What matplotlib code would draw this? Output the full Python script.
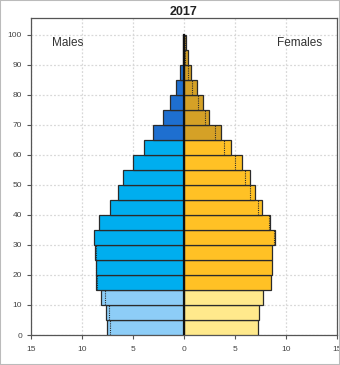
import matplotlib
matplotlib.use("Agg")
import matplotlib.pyplot as plt
import numpy as np

plt.rcParams['font.family'] = ['Liberation Sans', 'DejaVu Sans']

age_starts = [0, 5, 10, 15, 20, 25, 30, 35, 40, 45, 50, 55, 60, 65, 70, 75, 80, 85, 90, 95]
males = [7.58, 7.6, 8.1, 8.66, 8.66, 8.7, 8.82, 8.3, 7.25, 6.5, 5.95, 4.97, 3.92, 3.0, 2.03, 1.37, 0.78, 0.39, 0.13, 0.05]
females = [7.29, 7.35, 7.78, 8.5, 8.6, 8.66, 8.9, 8.43, 7.6, 6.96, 6.5, 5.65, 4.6, 3.6, 2.48, 1.9, 1.24, 0.69, 0.4, 0.15]
title = "2017"
xticks = [-15, -10, -5, 0, 5, 10, 15]
xticklabels = ["15", "10", "5", "0", "5", "10", "15"]
yticks = [0, 10, 20, 30, 40, 50, 60, 70, 80, 90, 100]

male_colors = {'young': '#8DCDF7', 'adult': '#00AEEF', 'old': '#1E6FD0'}
female_colors = {'young': '#FFE98C', 'adult': '#FFC125', 'old': '#D5A126'}

def group(a):
    if a < 15:
        return 'young'
    if a < 65:
        return 'adult'
    return 'old'

fig = plt.figure(figsize=(3.4, 3.65), dpi=100)
ax = fig.add_axes([31/340, 30/365, 306/340, 317/365])

edge = '#2b2b2b'
for a, m, f in zip(age_starts, males, females):
    g = group(a)
    ax.barh(a, -m, height=5, align='edge', color=male_colors[g], edgecolor=edge, linewidth=0.9, zorder=3)
    ax.barh(a, f, height=5, align='edge', color=female_colors[g], edgecolor=edge, linewidth=0.9, zorder=3)
    # dotted line showing the other sex's value on the side with excess
    if m > f:
        ax.plot([-f, -f], [a, a + 5], color=edge, linestyle=(0, (1, 1)), linewidth=0.8, zorder=4)
    elif f > m:
        ax.plot([m, m], [a, a + 5], color=edge, linestyle=(0, (1, 1)), linewidth=0.8, zorder=4)

ax.plot([0, 0], [0, 100], color='#111111', linewidth=1.6, zorder=5)

ax.set_xlim(-15, 15)
ax.set_ylim(0, 105.5)
ax.set_xticks(xticks)
ax.set_xticklabels(xticklabels)
ax.set_yticks(yticks)
ax.tick_params(axis='both', labelsize=6, labelcolor='#444444', color='#555555', length=3, width=0.8)
ax.tick_params(axis='x', pad=5)
ax.grid(True, color='#d8d8d8', linestyle=(0, (1.5, 1.5)), linewidth=0.9, zorder=0)
for s in ax.spines.values():
    s.set_color('#555555')
    s.set_linewidth(0.9)

ax.set_title(title, fontsize=9, fontweight='bold', pad=2, color='#222222')
ax.text(0.069, 0.92, "Males", transform=ax.transAxes, fontsize=8.5, color='#333333', va='center', ha='left')
ax.text(0.95, 0.92, "Females", transform=ax.transAxes, fontsize=8.5, color='#333333', va='center', ha='right')

fig.patches.append(plt.Rectangle((0, 0), 1, 1, transform=fig.transFigure, fill=False, edgecolor='#bbbbbb', linewidth=1.5))

fig.savefig("out.png", dpi=100)
